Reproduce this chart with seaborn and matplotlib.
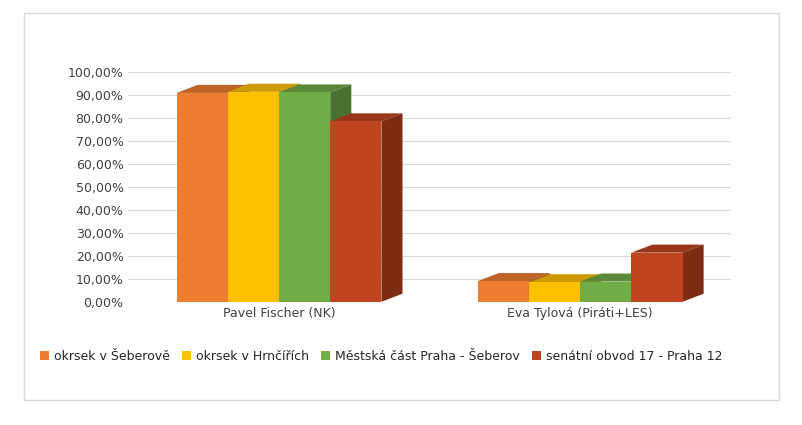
import matplotlib
matplotlib.use("Agg")
import matplotlib.pyplot as plt
import seaborn as sns
import pandas as pd
from matplotlib.patches import Polygon, Rectangle
from matplotlib.ticker import FuncFormatter

candidates = ["Pavel Fischer (NK)", "Eva Tylová (Piráti+LES)"]
areas = ["okrsek v Šeberově", "okrsek v Hrnčířích", "Městská část Praha - Šeberov", "senátní obvod 17 - Praha 12"]
fischer = [91.0, 91.5, 91.2, 78.6]
tylova = [9.0, 8.5, 8.8, 21.4]
colors = ["#ED7D31", "#FFC000", "#70AD47", "#C0441E"]

rows = []
for a, f, t in zip(areas, fischer, tylova):
    rows.append({"kandidát": candidates[0], "oblast": a, "hodnota": f})
    rows.append({"kandidát": candidates[1], "oblast": a, "hodnota": t})
df = pd.DataFrame(rows)

sns.set_theme(style="white")
plt.rcParams["font.family"] = ["DejaVu Sans"]
fig, ax = plt.subplots(figsize=(8.03, 4.25), dpi=100)
fig.subplots_adjust(left=0.16, right=0.91, top=0.83, bottom=0.29)

sns.barplot(data=df, x="kandidát", y="hodnota", hue="oblast", palette=colors,
            hue_order=areas, order=candidates, width=0.68, ax=ax, saturation=1,
            linewidth=0, zorder=3)

# pseudo 3D top and side faces from bar geometry
dx, dy = 0.07, 3.5
def darker(c, k):
    r, g, b = matplotlib.colors.to_rgb(c)
    return (r * k, g * k, b * k)
for cont, col in zip(ax.containers, colors):
    for p in cont:
        x0, w, h = p.get_x(), p.get_width(), p.get_height()
        ax.add_patch(Polygon([(x0, h), (x0 + dx, h + dy), (x0 + w + dx, h + dy), (x0 + w, h)],
                             closed=True, fc=darker(col, 0.8), ec="none", zorder=2))
        ax.add_patch(Polygon([(x0 + w, 0), (x0 + w + dx, dy), (x0 + w + dx, h + dy), (x0 + w, h)],
                             closed=True, fc=darker(col, 0.65), ec="none", zorder=2))

ax.set_ylim(0, 100)
ax.set_yticks(range(0, 101, 10))
ax.yaxis.set_major_formatter(FuncFormatter(lambda v, _: f"{v:.2f}".replace(".", ",") + "%"))
ax.grid(axis="y", color="#d9d9d9", lw=0.8, zorder=0)
for s in ax.spines.values():
    s.set_visible(False)
ax.set_xlabel("")
ax.set_ylabel("")
ax.tick_params(axis="both", labelsize=9, colors="#404040", length=0)
ax.legend(loc="upper center", bbox_to_anchor=(0.42, -0.16), ncol=4, frameon=False,
          fontsize=9, handlelength=0.7, handleheight=0.7, columnspacing=1.0, handletextpad=0.4)
fig.patches.append(Rectangle((0.03, 0.06), 0.94, 0.91, transform=fig.transFigure,
                             fill=False, ec="#d9d9d9", lw=1))
fig.savefig("out.png", dpi=100)
